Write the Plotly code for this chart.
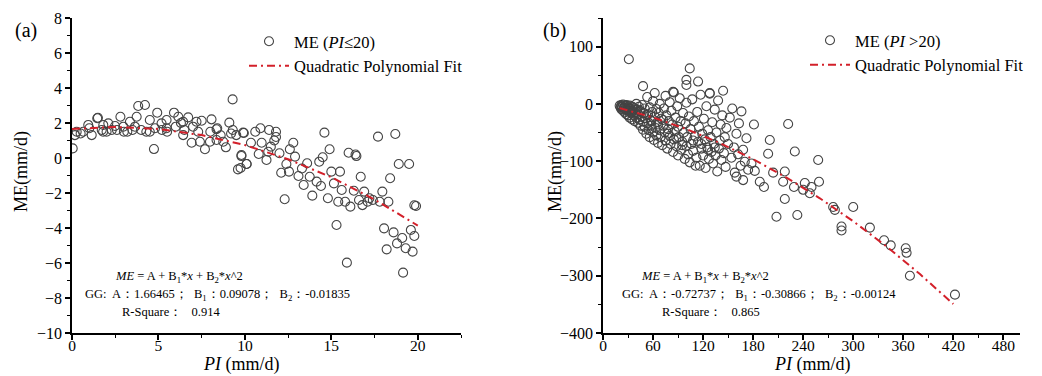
import plotly.graph_objects as go

# ---------------- data: panel (a) PI <= 20 ----------------
pi_a = [0.04, 0.17, 0.27, 0.65, 0.94, 1.14, 1.46, 1.5, 1.72, 1.81, 2.1, 2.3, 2.49, 2.8, 2.97,
        3.2, 3.35, 3.64, 3.74, 3.83, 4.22, 4.3, 4.5, 4.93, 4.74, 4.8, 5.18, 5.47, 5.47, 5.9,
        6.15, 6.43, 6.72, 6.43, 6.0, 7.0, 7.2, 7.5, 6.92, 7.4, 7.69, 8.07, 7.98, 8.36, 8.4,
        8.36, 8.75, 8.9, 9.1, 9.3, 9.29, 9.5, 9.9, 9.8, 10.1, 9.6,
        1.0, 2.0, 2.6, 3.0, 3.5, 4.0, 4.5, 5.5, 6.5, 7.3, 8.0, 8.6, 9.2, 5.2, 6.3, 0.5, 1.8,
        9.94, 10.6, 10.9, 11.8, 11.8, 9.8, 10.1, 9.75, 10.35, 10.97, 10.8, 11.25, 11.5, 11.35,
        12.0, 12.8, 14.6, 12.9, 12.4, 12.1, 12.55, 13.1, 13.4, 13.6, 13.75, 13.9, 14.15, 14.4,
        14.3, 14.5, 14.9, 15.0, 15.15, 15.5, 14.8, 12.3, 15.6, 16.0, 16.45, 16.4, 16.7, 16.3,
        15.4, 15.8, 16.1, 16.6, 16.8, 16.9, 17.2, 17.1, 17.4, 17.8, 17.95, 18.3, 17.7, 18.7,
        18.4, 18.9, 19.5, 19.9, 19.8, 15.3, 15.9, 18.05, 18.6, 18.2, 18.8, 19.1, 19.3, 19.6,
        19.8, 19.7, 19.15, 11.4, 11.7, 12.6, 13.3]
me_a = [0.55, 1.31, 1.5, 1.5, 1.89, 1.31, 2.27, 2.3, 1.6, 1.89, 1.98, 1.6, 1.83, 2.36, 1.79,
        1.5, 2.07, 1.79, 2.36, 2.97, 3.03, 1.5, 2.17, 2.59, 0.51, 1.7, 1.98, 1.7, 2.17, 2.59,
        2.36, 2.07, 2.32, 1.31, 1.79, 1.79, 2.07, 2.13, 0.87, 0.93, 0.5, 2.21, 0.93, 1.64, 1.7,
        1.03, 0.93, 0.61, 2.02, 1.6, 3.35, 1.31, 1.45, 0.11, -0.34, -0.65,
        1.7, 1.5, 1.6, 1.5, 1.6, 1.6, 1.5, 1.5, 1.6, 1.5, 1.5, 1.3, 1.4, 1.6, 2.0, 1.4, 1.5,
        1.43, 1.5, 1.7, 1.5, 1.2, 0.17, -0.34, -0.57, 0.87, 0.87, 0.23, -0.11, 0.65, 0.36,
        0.27, 0.87, 1.45, 0.08, -0.34, -0.84, -0.78, -1.03, -1.54, -0.3, -1.07, -2.15, -1.35, -1.6,
        -0.21, 0.04, 0.5, -0.78, -1.45, -0.78, -2.3, -2.36, -1.83, 0.3, 0.11, 0.2, -1.07, -1.87,
        -2.5, -2.5, -2.78, -2.4, -2.69, -1.92, -2.3, -2.5, -2.4, -2.5, -1.92, -2.5, 1.22, 1.37,
        -1.16, -0.34, -0.34, -2.74, -2.7, -3.83, -5.98, -4.02, -4.25, -5.22, -4.88, -4.57, -5.16, -4.11,
        -4.46, -5.35, -6.55, 1.6, 1.0, 0.5, -0.6]

# fitted curve (a), read at regular PI steps
fit_pi_a = [0, 2.5, 5, 7.5, 10, 12.5, 15, 17.5, 20]
fit_me_a = [1.66, 1.77, 1.66, 1.31, 0.74, -0.07, -1.10, -2.37, -3.86]

# ---------------- data: panel (b) PI > 20 ----------------
pi_b = [20, 21, 22, 22, 23, 24, 24, 25, 26, 26, 27, 28, 28, 29, 30, 30, 31, 32, 32, 33, 34, 35, 35,
        36, 37, 38, 38, 39, 40, 40, 41, 42, 42, 43, 44, 45, 45, 46, 47, 48, 48, 49, 50, 50, 51, 52,
        53, 53, 54, 55, 56, 56, 57, 58, 59, 60, 60, 61, 62, 63, 64, 64, 65, 66, 67, 68, 68, 69, 70,
        71, 72, 73, 74, 75, 75, 76, 77, 78, 79, 80, 80, 81, 82, 83, 84, 85, 85, 86, 87, 88, 89, 90,
        90, 91, 92, 93, 94, 95, 96, 97, 98, 99, 100, 100, 101, 102, 103, 104, 105, 106, 107, 108,
        109, 110, 111, 112, 113, 114, 115, 116, 117, 118, 119, 120, 121, 122, 123, 124, 125, 126,
        127, 128, 129, 130, 131, 132, 133, 134, 135, 136, 137, 138, 139, 140, 141, 142, 143, 145,
        146, 147, 148, 150, 152, 154, 155, 157, 158, 160, 160, 162, 163, 165, 166, 168, 170, 172,
        174, 178, 181, 182, 168, 188, 193, 198, 200, 204, 208, 216, 218, 218, 222, 229, 230, 233,
        240, 242, 248, 250, 258, 259, 276, 278, 286, 286, 300, 320, 337, 345, 363, 364, 368, 422,
        31, 104, 100, 114, 48, 100, 144, 84, 62, 128,
        22, 25, 27, 29, 31, 33, 36, 39, 44, 52, 58, 66, 72, 78, 88, 95, 108, 118, 126, 134]
me_b = [-3, -6, -2, -9, -5, -1, -12, -7, -4, -15, -9, -2, -18, -11, -6, -20, -13, -3, -24, -9, -16, -5, -27,
        -12, -20, -8, -30, -15, -24, 0, -10, -33, -18, -5, -27, -13, -38, -22, -2, -31, -45, -16, -8, -40, -25, -52,
        12, -34, -18, -46, -6, -58, -28, -38, -14, -50, 5, -63, -22, -42, -9, -55, -32, -68, -16, -46, 0, -58, -26,
        -72, -38, -8, -50, -64, 14, -20, -78, -44, -30, -56, 3, -70, -12, -36, -84, -62, 20, -48, -24, -74, -4, -90,
        -40, -58, 10, -30, -80, -66, -16, -50, -96, -34, -74, 2, -58, -88, -22, -102, -44, -70, 8, -82,
        -30, -56, -108, -94, -14, -66, -40, -108, 16, -78, -52, -90, -26, -62, -112, -4, -76, -46,
        -96, 18, -58, -84, -32, -104, -70, -10, -90, -50, -118, 6, -78, -64, -36, -98, -20, -86,
        -58, -110, -42, -70, -24, -94, -8, -76, -120, -52, -127, -88, -34, -108, -13, -80, -101, -60,
        -115, -104, -36, -117, -133, -136, -145, -87, -63, -120, -197, -136, -118, -166, -35, -145, -83, -194,
        -150, -138, -156, -145, -98, -136, -180, -185, -214, -221, -180, -216, -238, -247, -252, -260, -300, -333,
        78, 62, 42, 39, 31, 33, 23, 21, 19, 19,
        -4, -8, -3, -10, -7, -14, -6, -18, -12, -20, -30, -36, -28, -52, -60, -72, -64, -70, -80, -76]

fit_pi_b = [20, 60, 100, 140, 180, 220, 260, 300, 340, 380, 420]
fit_me_b = [-7.4, -23.7, -44.0, -68.2, -96.5, -128.6, -164.8, -204.9, -249.0, -297.1, -349.4]

W, H = 1042, 376
FONT = "Liberation Serif"
MARK = dict(symbol="circle-open", size=9, color="#444444", line=dict(width=1.1, color="#444444"))
FITLINE = dict(color="#d3202a", width=2, dash="8px,4px,2px,4px")

fig = go.Figure()
fig.add_trace(go.Scatter(x=pi_a, y=me_a, mode="markers", marker=MARK,
                         name="ME (<i>PI</i>≤20)", xaxis="x", yaxis="y", legend="legend"))
fig.add_trace(go.Scatter(x=fit_pi_a, y=fit_me_a, mode="lines", line=FITLINE,
                         name="Quadratic Polynomial Fit", xaxis="x", yaxis="y", legend="legend"))
fig.add_trace(go.Scatter(x=pi_b, y=me_b, mode="markers", marker=MARK,
                         name="ME (<i>PI</i> >20)", xaxis="x2", yaxis="y2", legend="legend2"))
fig.add_trace(go.Scatter(x=fit_pi_b, y=fit_me_b, mode="lines", line=FITLINE,
                         name="Quadratic Polynomial Fit", xaxis="x2", yaxis="y2", legend="legend2"))

def px(x):
    return x / W

def py(y):
    return 1 - y / H

axis_common = dict(showline=True, linecolor="black", linewidth=1.5, ticks="outside",
                   ticklen=5, tickwidth=1.5, tickcolor="black", showgrid=False, zeroline=False,
                   mirror=False, automargin=False)
yfont = dict(family=FONT, size=16, color="black")
xfont = dict(family=FONT, size=15.5, color="black")

fig.update_layout(
    width=W, height=H, margin=dict(l=0, r=0, t=0, b=0),
    paper_bgcolor="white", plot_bgcolor="white",
    font=dict(family=FONT, color="black"),
    xaxis=dict(domain=[px(72), px(461)], range=[0, 22.5], dtick=5, tick0=0, anchor="y",
               ticklabelstandoff=-7, tickfont=xfont,
               minor=dict(dtick=2.5, ticklen=3, tickcolor="black", ticks="outside", tickwidth=1.2),
               **axis_common),
    yaxis=dict(domain=[py(333), py(18)], range=[-10, 8], dtick=2, tick0=0, anchor="x",
               tickfont=yfont,
               minor=dict(dtick=1, ticklen=3, tickcolor="black", ticks="outside", tickwidth=1.2),
               **axis_common),
    xaxis2=dict(domain=[px(603), px(1020)], range=[0, 500], dtick=60, tick0=0, anchor="y2",
                ticklabelstandoff=-7, tickfont=xfont,
                minor=dict(dtick=30, ticklen=3, tickcolor="black", ticks="outside", tickwidth=1.2),
                **axis_common),
    yaxis2=dict(domain=[py(333), py(18)], range=[-400, 150], dtick=100, tick0=0, anchor="x2",
                tickfont=yfont,
                minor=dict(dtick=50, ticklen=3, tickcolor="black", ticks="outside", tickwidth=1.2),
                **axis_common),
    legend=dict(x=px(244), y=py(24), xanchor="left", yanchor="top", bgcolor="rgba(0,0,0,0)",
                font=dict(family=FONT, size=16.5), itemwidth=40, tracegroupgap=0),
    legend2=dict(x=px(805), y=py(23), xanchor="left", yanchor="top", bgcolor="rgba(0,0,0,0)",
                 font=dict(family=FONT, size=16.5), itemwidth=40, tracegroupgap=0),
    showlegend=True,
)

ann = []
def A(text, x, y, size, xanchor="center", textangle=0):
    ann.append(dict(text=text, x=px(x), y=py(y), xref="paper", yref="paper", showarrow=False,
                    xanchor=xanchor, yanchor="middle", textangle=textangle,
                    font=dict(family=FONT, size=size, color="black")))

A("(a)", 26, 31, 20)
A("(b)", 554, 31, 20)
A("ME(mm/d)", 22, 172, 18, textangle=-90)
A("ME(mm/d)", 556, 172, 18, textangle=-90)
A("<i>PI</i> (mm/d)", 241, 364, 18)
A("<i>PI</i> (mm/d)", 812, 364, 18)

A("<i>ME</i> = A + B<sub>1</sub>*<i>x</i> + B<sub>2</sub>*<i>x</i>^2", 179, 277, 12.5)
A("GG:  A：1.66465；  B<sub>1</sub>：0.09078；  B<sub>2</sub>：-0.01835", 83, 295, 12.5, xanchor="left")
A("R-Square：   0.914", 120, 312, 12.5, xanchor="left")

A("<i>ME</i> = A + B<sub>1</sub>*<i>x</i> + B<sub>2</sub>*<i>x</i>^2", 705, 277, 12.5)
A("GG:  A：-0.72737；  B<sub>1</sub>：-0.30866；  B<sub>2</sub>：-0.00124", 620, 295, 12.5, xanchor="left")
A("R-Square：   0.865", 660, 312, 12.5, xanchor="left")

fig.update_layout(annotations=ann)
fig.write_html("out.html")
